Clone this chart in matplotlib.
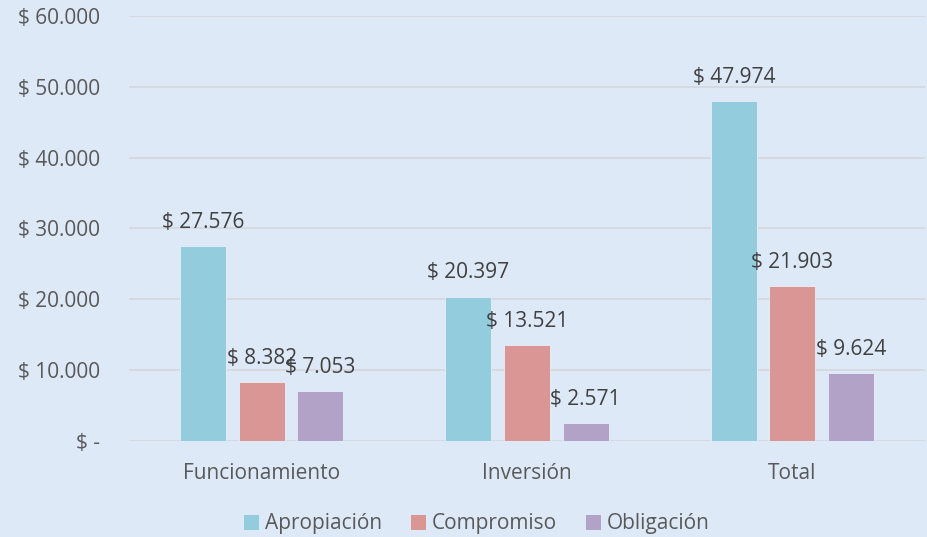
import matplotlib
matplotlib.use("Agg")
import matplotlib.pyplot as plt
from matplotlib.patches import Patch
import numpy as np

plt.rcParams['font.family'] = ['Open Sans', 'DejaVu Sans']

categorias = ['Funcionamiento', 'Inversión', 'Total']
series = ['Apropiación', 'Compromiso', 'Obligación']
apropiacion = [27576, 20397, 47974]
compromiso = [8382, 13521, 21903]
obligacion = [7053, 2571, 9624]
y_ticks = [0, 10000, 20000, 30000, 40000, 50000, 60000]

colores = ['#93CDDD', '#DA9694', '#B3A2C7']
fondo = '#DEE9F8'


def fmt(v):
    if v == 0:
        return '$ -'
    return '$ ' + f'{v:,.0f}'.replace(',', '.')


fig = plt.figure(figsize=(9.28, 5.37), dpi=100, facecolor=fondo)
ax = fig.add_axes([129 / 928, 1 - 441 / 537, 796 / 928, 425 / 537])
ax.set_facecolor(fondo)

x = np.arange(len(categorias))
paso = 0.2205
ancho = 0.1734
for i, (nombre, vals) in enumerate(zip(series, [apropiacion, compromiso, obligacion])):
    pos = x + (i - 1) * paso
    ax.bar(pos, vals, width=ancho, color=colores[i], edgecolor='#E8EEF8', linewidth=0.6, zorder=3)
    for px, v in zip(pos, vals):
        ax.annotate(fmt(v), (px, v), xytext=(0, 17), textcoords='offset points',
                    ha='center', va='center', fontsize=15, color='#404040', zorder=4)

ax.set_xlim(-0.5, 2.5)
ax.set_ylim(0, 60000)
ax.set_yticks(y_ticks)
ax.set_yticklabels([fmt(v) for v in y_ticks])
ax.set_xticks(x)
ax.set_xticklabels(categorias)
ax.tick_params(axis='y', length=0, pad=21, labelsize=15, labelcolor='#595959')
ax.tick_params(axis='x', length=0, pad=16, labelsize=15, labelcolor='#595959')
ax.grid(axis='y', color='#D6D9DE', linewidth=1.3, zorder=0)
for s in ax.spines.values():
    s.set_visible(False)

handles = [Patch(facecolor=c, label=n) for c, n in zip(colores, series)]
fig.legend(handles=handles, loc='center', bbox_to_anchor=(0.514, 1 - 524 / 537), ncol=3,
           frameon=False, fontsize=15, labelcolor='#595959', handlelength=0.7,
           handleheight=0.7, handletextpad=0.3, columnspacing=1.4)

fig.savefig('out.png', dpi=100, facecolor=fondo)
